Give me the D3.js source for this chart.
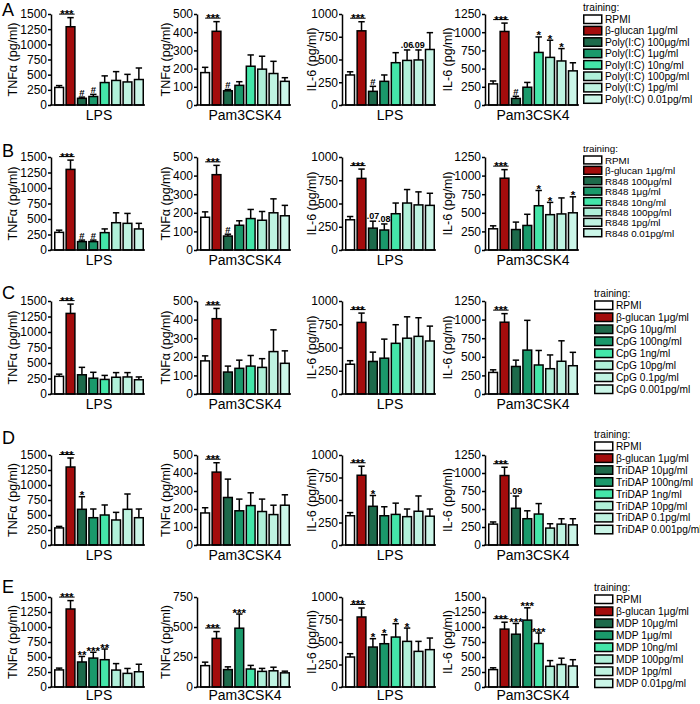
<!DOCTYPE html>
<html><head><meta charset="utf-8">
<script src="https://cdn.jsdelivr.net/npm/d3@7"></script>
<style>
body{margin:0;background:#fff;}
svg{display:block;font-family:"Liberation Sans",Arial,Helvetica,sans-serif;}
</style>
</head><body>
<svg id="chart" width="700" height="704"></svg>
<script>
// ---------- DATA ----------
const rowLetters = ["A","B","C","D","E"];
const stimuli = ["LPS","Pam3CSK4","LPS","Pam3CSK4"];
const cytokines = ["TNFα (pg/ml)","TNFα (pg/ml)","IL-6 (pg/ml)","IL-6 (pg/ml)"];

const legendA = ["RPMI","β-glucan 1μg/ml","Poly(I:C) 100μg/ml","Poly(I:C) 1μg/ml","Poly(I:C) 10ng/ml","Poly(I:C) 100pg/ml","Poly(I:C) 1pg/ml","Poly(I:C) 0.01pg/ml"];
const legendB = ["RPMI","β-glucan 1μg/ml","R848 100μg/ml","R848 1μg/ml","R848 10ng/ml","R848 100pg/ml","R848 1pg/ml","R848 0.01pg/ml"];
const legendC = ["RPMI","β-glucan 1μg/ml","CpG 10μg/ml","CpG 100ng/ml","CpG 1ng/ml","CpG 10pg/ml","CpG 0.1pg/ml","CpG 0.001pg/ml"];
const legendD = ["RPMI","β-glucan 1μg/ml","TriDAP 10μg/ml","TriDAP 100ng/ml","TriDAP 1ng/ml","TriDAP 10pg/ml","TriDAP 0.1pg/ml","TriDAP 0.001pg/ml"];
const legendE = ["RPMI","β-glucan 1μg/ml","MDP 10μg/ml","MDP 1μg/ml","MDP 10ng/ml","MDP 100pg/ml","MDP 1pg/ml","MDP 0.01pg/ml"];

// y-axis maxima and tick steps, per panel (TNF LPS, TNF Pam3, IL-6 LPS, IL-6 Pam3)
const yMaxA = [1500,500,1000,1250], yStepA = [250,100,250,250];
const yMaxB = [1500,500,1000,1250], yStepB = [250,100,250,250];
const yMaxC = [1500,500,1000,1250], yStepC = [250,100,250,250];
const yMaxD = [1500,500,1000,1250], yStepD = [250,100,250,250];
const yMaxE = [1500,750,1000,1500], yStepE = [250,250,250,250];

// means and error-bar tops (mean + SEM)
const meanA = [[290,1290,110,140,370,405,380,420],[178,405,78,108,213,197,173,130],[330,815,150,260,465,490,495,610],[290,1010,90,244,722,654,605,469]];
const errA  = [[320,1440,130,175,480,550,505,610],[207,458,85,128,275,268,240,150],[365,915,205,330,575,605,605,795],[330,1125,120,310,935,890,775,580]];
const noteA = [["","***","#","#","","","",""],["","***","#","","","","",""],["","***","#","","",".06",".09",""],["","***","#","","*","*","*",""]];

const meanB = [[285,1300,135,135,280,440,430,340],[176,405,75,133,169,160,200,184],[325,770,235,215,390,505,485,480],[285,965,275,330,595,475,485,500]];
const errB  = [[320,1450,160,160,340,600,590,430],[205,455,85,157,218,207,275,240],[360,870,310,280,505,650,625,610],[325,1080,375,480,800,640,700,715]];
const noteB = [["","***","#","#","","","",""],["","***","#","","","","",""],["","***",".07",".08","","","",""],["","***","","","*","*","","*"]];

const meanC = [[285,1300,310,255,235,270,275,230],[178,405,118,138,150,143,228,165],[320,770,350,385,545,600,620,570],[290,965,370,590,390,340,440,380]];
const errC  = [[320,1450,430,350,300,345,345,275],[205,460,150,182,207,190,345,232],[358,870,450,590,745,830,820,730],[325,1080,455,990,585,525,715,560]];
const noteC = [["","***","","","","","",""],["","***","","","","","",""],["","***","","","","","",""],["","***","","","","","",""]];

const meanD = [[285,1300,595,455,500,417,595,455],[178,405,264,190,219,186,169,221],[325,775,430,325,340,315,375,320],[290,965,510,365,430,235,290,280]];
const errD  = [[310,1450,805,600,667,544,850,600],[207,457,366,255,290,255,221,279],[360,875,550,425,465,400,545,400],[320,1080,680,475,575,295,365,365]];
const noteD = [["","***","*","","","","",""],["","***","","","","","",""],["","***","*","","","","",""],["","***",".09","","","","",""]];

const meanE = [[285,1300,417,482,455,282,227,254],[178,405,145,490,150,130,135,118],[333,778,444,481,555,507,396,415],[290,965,880,1115,725,345,375,350]];
const errE  = [[315,1440,509,579,633,390,309,379],[207,462,168,608,180,155,165,132],[370,878,537,581,704,655,507,544],[320,1080,1060,1320,900,440,480,455]];
const noteE = [["","***","**","***","**","","",""],["","***","","***","","","",""],["","***","*","*","*","*","",""],["","***","***","***","***","","",""]];

const barColors = ["#ffffff","#a30c0c","#1d6a4b","#1a996b","#44e6a9","#b0f0d9","#bff3e1","#cbf6e8"];

// ---------- LAYOUT ----------
const rowsData = [
  {letter:"A", legend:legendA, yMax:yMaxA, yStep:yStepA, mean:meanA, err:errA, note:noteA},
  {letter:"B", legend:legendB, yMax:yMaxB, yStep:yStepB, mean:meanB, err:errB, note:noteB},
  {letter:"C", legend:legendC, yMax:yMaxC, yStep:yStepC, mean:meanC, err:errC, note:noteC},
  {letter:"D", legend:legendD, yMax:yMaxD, yStep:yStepD, mean:meanD, err:errD, note:noteD},
  {letter:"E", legend:legendE, yMax:yMaxE, yStep:yStepE, mean:meanE, err:errE, note:noteE}
];
const rowTop = [14,157,301,455,597];
const rowBottom = [105,250,394,545,687];
const labelGap = [15,15,15,15,13];
const letterY = [16,157,299,444,593];
const colAxisX = [51,197,342,485];
const titleOff = [38,31,30,37];
const legX = [583,583,594,594,594];
const legTop = [15,156,301,442,595];
const legPitch = [11.4,10.4,12,11.9,12];
const legFont = [10.2,9.8,10.2,10.2,10.2];

const svg = d3.select("#chart");
const idx = d3.range(8);

rowsData.forEach((row, r) => {
  const g = svg.append("g");
  g.append("text").attr("x",2).attr("y",letterY[r]).attr("font-size",18).text(row.letter);

  for (let c = 0; c < 4; c++) {
    const ax = colAxisX[c];
    const y = d3.scaleLinear().domain([0,row.yMax[c]]).range([rowBottom[r],rowTop[r]]);
    const x = d3.scaleBand().domain(idx).range([ax+3, ax+93]).paddingInner(0.1).paddingOuter(0);
    const bw = x.bandwidth();
    const p = g.append("g");

    // bars
    p.selectAll("rect.bar").data(idx).enter().append("rect")
      .attr("x", i => x(i)+0.75).attr("width", bw-1.5)
      .attr("y", i => y(row.mean[c][i]))
      .attr("height", i => y(0) - y(row.mean[c][i]))
      .attr("fill", i => barColors[i]).attr("stroke","#000").attr("stroke-width",1.5);

    // error bars
    p.selectAll("line.eb").data(idx).enter().append("line")
      .attr("x1", i => x(i)+bw/2).attr("x2", i => x(i)+bw/2)
      .attr("y1", i => y(row.mean[c][i])).attr("y2", i => y(row.err[c][i]))
      .attr("stroke","#000").attr("stroke-width",1.5);
    p.selectAll("line.cap").data(idx).enter().append("line")
      .attr("x1", i => x(i)+bw/2-3.2).attr("x2", i => x(i)+bw/2+3.2)
      .attr("y1", i => y(row.err[c][i])).attr("y2", i => y(row.err[c][i]))
      .attr("stroke","#000").attr("stroke-width",1.5);

    // y axis
    const yAxis = d3.axisLeft(y)
      .tickValues(d3.range(0, row.yMax[c]+1, row.yStep[c]))
      .tickFormat(d3.format("d"))
      .tickSize(3).tickSizeOuter(0).tickPadding(1);
    const ya = p.append("g").attr("transform",`translate(${ax},0)`).call(yAxis);
    ya.select(".domain").attr("stroke","#000").attr("stroke-width",1.5);
    ya.selectAll(".tick line").attr("stroke","#000").attr("stroke-width",1.5);
    ya.selectAll(".tick text").attr("font-size",12).attr("fill","#000")
      .attr("font-family","'Liberation Sans',Arial,sans-serif");

    // x axis line
    p.append("line").attr("x1",ax-0.75).attr("x2",x.range()[1]+1)
      .attr("y1",y(0)).attr("y2",y(0)).attr("stroke","#000").attr("stroke-width",1.5);

    // labels
    p.append("text").attr("x",(x.range()[0]+x.range()[1])/2).attr("y",rowBottom[r]+labelGap[r])
      .attr("text-anchor","middle").attr("font-size",14).text(stimuli[c]);
    const midY = (rowTop[r]+rowBottom[r])/2;
    p.append("text").attr("transform",`translate(${ax-titleOff[c]},${midY}) rotate(-90)`)
      .attr("text-anchor","middle").attr("dy","0.35em").attr("font-size",12.5).text(cytokines[c]);

    // annotations
    idx.forEach(i => {
      const t = row.note[c][i];
      if (!t) return;
      const ey = y(row.err[c][i]);
      const cx = x(i)+bw/2;
      if (i === 1) {
        const ly = ey - 3.5;
        const x1 = x(0)+bw/2, x2 = x(1)+bw-1;
        p.append("line").attr("x1",x1).attr("x2",x2).attr("y1",ly).attr("y2",ly)
          .attr("stroke","#000").attr("stroke-width",1);
        p.append("text").attr("x",(x1+x2)/2).attr("y",ly+4).attr("text-anchor","middle")
          .attr("font-size",11.5).attr("font-weight","bold").text(t);
      } else if (t.startsWith("*")) {
        p.append("text").attr("x",cx).attr("y",ey+2.5).attr("text-anchor","middle")
          .attr("font-size",11.5).attr("font-weight","bold").text(t);
      } else if (t === "#") {
        p.append("text").attr("x",cx).attr("y",ey-1.5).attr("text-anchor","middle")
          .attr("font-size",9.5).attr("font-weight","bold").text(t);
      } else {
        p.append("text").attr("x",cx).attr("y",ey-2).attr("text-anchor","middle")
          .attr("font-size",9).attr("font-weight","bold").text(t);
      }
    });
  }

  // legend
  const lg = g.append("g");
  lg.append("text").attr("x",legX[r]).attr("y",legTop[r]-4).attr("font-size",legFont[r]).text("training:");
  row.legend.forEach((lab, i) => {
    const ty = legTop[r] + i*legPitch[r];
    lg.append("rect").attr("x",legX[r]+0.75).attr("y",ty).attr("width",18).attr("height",Math.min(8.5,legPitch[r]-2.5))
      .attr("fill",barColors[i]).attr("stroke","#000").attr("stroke-width",1.5);
    lg.append("text").attr("x",legX[r]+22).attr("y",ty+8).attr("font-size",legFont[r]).text(lab);
  });
});
</script>
</body></html>
